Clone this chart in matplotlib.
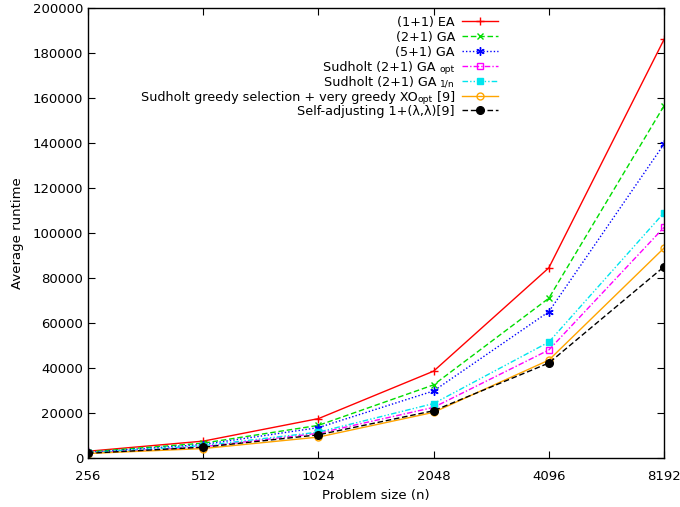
import matplotlib
matplotlib.use("Agg")
import matplotlib.pyplot as plt
from matplotlib.lines import Line2D
from matplotlib.ticker import FixedLocator, NullLocator
from matplotlib.transforms import offset_copy

sizes = [256, 512, 1024, 2048, 4096, 8192]
ea_11 = [3000, 7500, 17500, 38600, 84500, 186000]
ga_21 = [2700, 6600, 14500, 32500, 71000, 156500]
ga_51 = [2500, 6000, 13500, 29800, 65000, 139500]
sud_opt = [2200, 5000, 11000, 22500, 48000, 102500]
sud_1n = [2300, 5500, 11500, 24200, 51500, 109000]
sud_greedy = [2000, 4200, 9300, 20300, 43500, 93300]
self_adj = [2100, 4800, 10300, 21000, 42200, 85000]

# label pieces: (text, is_subscript)
labels = [
    [("(1+1) EA", False)],
    [("(2+1) GA", False)],
    [("(5+1) GA", False)],
    [("Sudholt (2+1) GA ", False), ("opt", True)],
    [("Sudholt (2+1) GA ", False), ("1/n", True)],
    [("Sudholt greedy selection + very greedy XO", False), ("opt", True), (" [9]", False)],
    [("Self-adjusting 1+(λ,λ)[9]", False)],
]
yticks = list(range(0, 200001, 20000))

W, H = 680, 507
fig = plt.figure(figsize=(W/100, H/100), dpi=100)
ax = fig.add_axes([88/W, 1-458/H, (664-88)/W, (458-8)/H])

series = [ea_11, ga_21, ga_51, sud_opt, sud_1n, sud_greedy, self_adj]
styles = [
    dict(color="#ff0000", ls="-", marker="+", ms=6, mfc="#ff0000"),
    dict(color="#00dd00", ls=(0, (4, 2)), marker="x", ms=5, mfc="#00dd00"),
    dict(color="#0000ff", ls=(0, (1, 1.5)), marker=(6, 2, 0), ms=6, mfc="#0000ff"),
    dict(color="#ff00ff", ls=(0, (4, 1.5, 1, 1.5)), marker="s", ms=5, mfc="none"),
    dict(color="#00e5ee", ls=(0, (4, 1.5, 1, 1.5, 1, 1.5)), marker="s", ms=5, mfc="#00e5ee"),
    dict(color="#ffa500", ls="-", marker="o", ms=5, mfc="none"),
    dict(color="#000000", ls=(0, (4, 2)), marker="o", ms=5.5, mfc="#000000"),
]
for vals, pieces, st in zip(series, labels, styles):
    ax.plot(sizes, vals, label="".join(p for p, _ in pieces), lw=1, mew=1, **st)

ax.set_xscale("log", base=2)
ax.set_xlim(256, 8192)
ax.xaxis.set_major_locator(FixedLocator(sizes))
ax.xaxis.set_minor_locator(NullLocator())
ax.set_xticklabels([str(s) for s in sizes])
ax.set_ylim(0, 200000)
ax.set_yticks(yticks)
ax.set_yticklabels([str(t) for t in yticks])
ax.tick_params(direction="in", top=True, right=True, length=5, labelsize=9.5)
ax.tick_params(axis="x", pad=9)
for s in ax.spines.values():
    s.set_linewidth(1)
ax.set_xlabel("Problem size (n)", fontsize=9.5, labelpad=4)
ax.set_ylabel("Average runtime", fontsize=9.5, labelpad=6)

# gnuplot-style key: right-aligned text, sample to the right
renderer = fig.canvas.get_renderer()
for i, (pieces, st) in enumerate(zip(labels, styles)):
    yp = 21 + i * 14.9
    xr = 455.0
    for txt, sub in reversed(pieces):
        if sub:
            t = fig.text(xr/W, 1 - (yp + 2.5)/H, txt, ha="right", va="center_baseline",
                         fontsize=6.6)
        else:
            t = fig.text(xr/W, 1 - yp/H, txt, ha="right", va="center_baseline", fontsize=9.2)
        bb = t.get_window_extent(renderer)
        xr -= bb.width
    ln = Line2D([462/W, 480/W, 498/W], [1 - yp/H] * 3, transform=fig.transFigure,
                lw=1, mew=1, markevery=[1], **st)
    fig.add_artist(ln)

fig.savefig("out.png", dpi=100)
